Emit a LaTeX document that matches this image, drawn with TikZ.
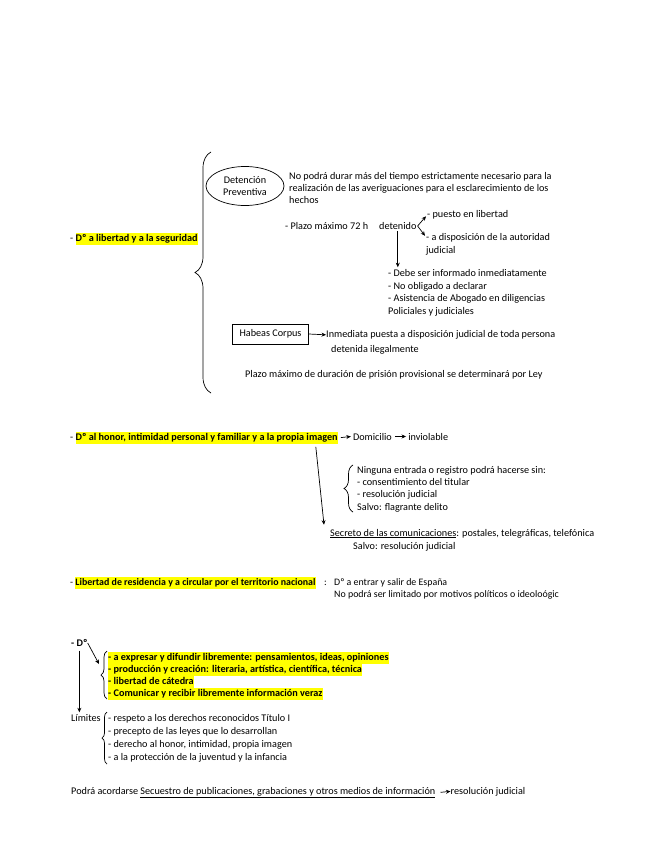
\documentclass[tikz,border=0pt]{standalone}
\usepackage{fontspec}
\setmainfont{Carlito}
\usetikzlibrary{decorations.pathreplacing,arrows.meta,shapes.geometric}
\definecolor{hly}{RGB}{255,255,0}
\newcommand\hlt[1]{{\setlength{\fboxsep}{0pt}\colorbox{hly}{\strut #1}}}
\tikzset{
  txt/.style={anchor=base west, inner sep=0pt, font=\fontsize{10.2}{12}\selectfont},
  stxt/.style={anchor=base west, inner sep=0pt, font=\fontsize{9.9}{11.8}\selectfont},
  arr/.style={-{Stealth[length=4.5pt,width=4pt]}, line width=0.7pt},
  brc/.style={decorate, decoration={brace, amplitude=#1}, line width=0.7pt},
  brc/.default=6
}
\begin{document}
\begin{tikzpicture}[x=1pt,y=-1pt]
\useasboundingbox[fill=white] (0,0) rectangle (655,848);

% ---------- Section 1 ----------
\node[txt] (lib) at (70,241.5) {- \hlt{\textbf{Dº a libertad y a la seguridad}}};
\draw[brc=16] (211,393) -- (211,152);

\node[draw, ellipse, line width=0.7pt, minimum width=78, minimum height=39, inner sep=0pt, align=center,
      font=\fontsize{10.2}{12}\selectfont] (ell) at (245,186) {Detención\\Preventiva};
\node[txt] (np1) at (289,179.5) {No podrá durar más del tiempo estrictamente necesario para la};
\node[txt] (np2) at (289,191.5) {realización de las averiguaciones para el esclarecimiento de los};
\node[txt] (np3) at (289,203.5) {hechos};

\node[txt] (plazo) at (285,229) {- Plazo máximo 72 h};
\node[txt] (det) at (379,229) {detenido};
\node[txt] (puesto) at (427,217) {- puesto en libertad};
\node[txt] (disp1) at (426,240.5) {- a disposición de la autoridad};
\node[txt] (disp2) at (426,253.5) {judicial};
\draw[arr] ([shift={(1pt,3pt)}]det.base east) -- ([shift={(-1pt,-2pt)}]puesto.west);
\draw[arr] ([shift={(1pt,3pt)}]det.base east) -- ([shift={(-1pt,2pt)}]disp1.west);

\node[txt] (debe1) at (388,276.5) {- Debe ser informado inmediatamente};
\node[txt] (debe2) at (388,289) {- No obligado a declarar};
\node[txt] (debe3) at (388,301.5) {- Asistencia de Abogado en diligencias};
\node[txt] (debe4) at (388,314) {Policiales y judiciales};
\draw[arr] ([yshift=-2pt]det.south) -- ([yshift=2pt]det.south |- debe1.north);

\node[draw, line width=0.7pt, minimum width=76, minimum height=20, inner sep=0pt,
      font=\fontsize{10.2}{12}\selectfont] (hab) at (270.5,334) {Habeas Corpus};
\node[txt] (inm1) at (326,337.5) {Inmediata puesta a disposición judicial de toda persona};
\node[txt] (inm2) at (331,352) {detenida ilegalmente};
\draw[arr] (hab.east) -- (inm1.west);
\node[txt] (pris) at (245,377.5) {Plazo máximo de duración de prisión provisional se determinará por Ley};

% ---------- Section 2 ----------
\node[txt] (hon) at (70,440) {- \hlt{\textbf{Dº al honor, intimidad personal y familiar y a la propia imagen}}};
\node[txt] (dom) at ([xshift=15pt]hon.base east) {Domicilio};
\node[txt] (inv) at ([xshift=16pt]dom.base east) {inviolable};
\draw[arr] ([xshift=3pt]hon.east) -- ([xshift=-2pt]dom.west);
\draw[arr] ([xshift=3pt]dom.east) -- ([xshift=-2pt]inv.west);

\draw[brc=9] (353,512) -- (353,465);
\node[txt] (nin1) at (357,473.5) {Ninguna entrada o registro podrá hacerse sin:};
\node[txt] (nin2) at (357,485.5) {- consentimiento del titular};
\node[txt] (nin3) at (357,497.5) {- resolución judicial};
\node[txt] (nin4) at (357,510) {Salvo: flagrante delito};

\node[txt] (secr) at (330,536) {\underline{Secreto de las comunicaciones}: postales, telegráficas, telefónica};
\node[txt] (salv) at (353,549) {Salvo: resolución judicial};
\draw[arr] ([xshift=-22pt,yshift=-3pt]hon.south east) -- ([shift={(-6pt,4pt)}]secr.north west);

% ---------- Section 3 ----------
\node[stxt] (res) at (70,585.5) {- \hlt{\textbf{Libertad de residencia y a circular por el territorio nacional}}};
\node[stxt] (colon) at (324,585.5) {:};
\node[stxt] (entr) at (334,585.5) {Dº a entrar y salir de España};
\node[stxt] (lim2) at (334,597.5) {No podrá ser limitado por motivos políticos o ideoloógic};

% ---------- Section 4 ----------
\node[txt] (d4) at (71,646.5) {\textbf{- Dº}};
\coordinate (c4) at (99,664);
\draw[arr] (d4.east) -- (c4);
\draw[brc=6] (107,699) -- (107,651);
\node[txt] (e1) at (108,660) {\hlt{\textbf{- a expresar y difundir libremente: pensamientos, ideas, opiniones}}};
\node[txt] (e2) at (108,672.2) {\hlt{\textbf{- producción y creación: literaria, artística, científica, técnica}}};
\node[txt] (e3) at (108,684.4) {\hlt{\textbf{- libertad de cátedra}}};
\node[txt] (e4) at (108,696.6) {\hlt{\textbf{- Comunicar y recibir libremente información veraz}}};

\node[txt] (lim) at (71,721.5) {Límites};
\draw[arr] ([yshift=-4pt]d4.south) -- ([yshift=2pt]d4.south |- lim.north);
\draw[brc=5] (107,764) -- (107,712);
\node[txt] (l1) at (108,721.5) {- respeto a los derechos reconocidos Título I};
\node[txt] (l2) at (108,734.5) {- precepto de las leyes que lo desarrollan};
\node[txt] (l3) at (108,747.5) {- derecho al honor, intimidad, propia imagen};
\node[txt] (l4) at (108,760.5) {- a la protección de la juventud y la infancia};

% ---------- Final line ----------
\node[txt] (pod) at (71,794) {Podrá acordarse \underline{Secuestro de publicaciones, grabaciones y otros medios de información}};
\node[txt] (resj) at ([xshift=15pt]pod.base east) {resolución judicial};
\draw[arr] ([xshift=5pt]pod.east) -- (resj.west);
\end{tikzpicture}
\end{document}
